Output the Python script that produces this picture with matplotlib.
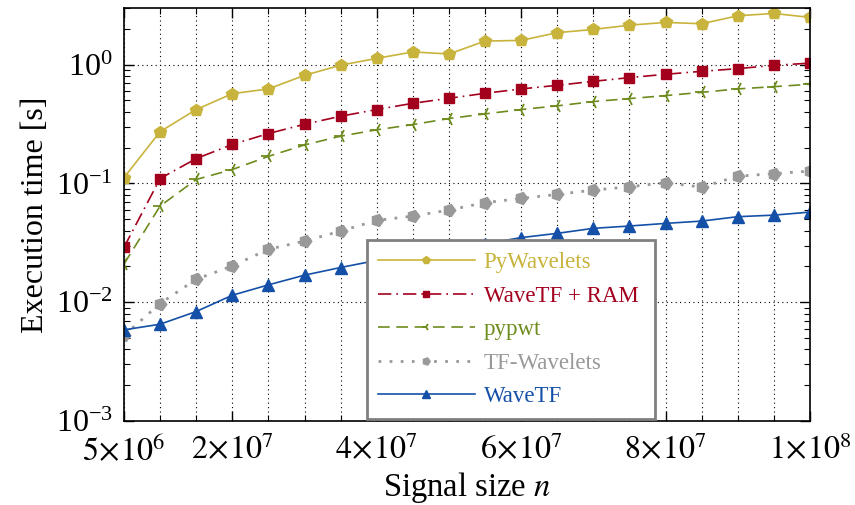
import numpy as np
import matplotlib
matplotlib.use("Agg")
import matplotlib.pyplot as plt
from matplotlib.ticker import FixedLocator, LogLocator, NullFormatter

plt.rcParams['font.family'] = ['Liberation Serif', 'DejaVu Serif']
plt.rcParams['mathtext.fontset'] = 'stix'

# signal sizes
sizes = np.arange(1, 21) * 5e6

pywavelets = [0.112, 0.273, 0.419, 0.570, 0.625, 0.813, 0.99, 1.13, 1.28, 1.23,
              1.58, 1.60, 1.86, 1.98, 2.15, 2.27, 2.21, 2.58, 2.70, 2.50]
wavetf_ram = [0.029, 0.110, 0.162, 0.213, 0.263, 0.315, 0.368, 0.419, 0.473, 0.521,
              0.574, 0.625, 0.670, 0.724, 0.778, 0.830, 0.879, 0.926, 0.987, 1.03]
pypwt = [0.021, 0.0645, 0.108, 0.131, 0.169, 0.211, 0.250, 0.283, 0.313, 0.352,
         0.385, 0.419, 0.450, 0.489, 0.518, 0.549, 0.585, 0.625, 0.653, 0.684]
tf_wavelets = [0.00525, 0.00975, 0.0156, 0.0202, 0.0279, 0.0327, 0.0397, 0.0489, 0.0531, 0.0597,
               0.0689, 0.0748, 0.0809, 0.0879, 0.0938, 0.1014, 0.0931, 0.115, 0.121, 0.127]
wavetf = [0.00585, 0.00653, 0.00835, 0.01145, 0.0140, 0.0169, 0.0196, 0.0225, 0.025, 0.028,
          0.031, 0.035, 0.038, 0.0419, 0.0438, 0.0461, 0.0482, 0.0525, 0.0541, 0.0574]

xtick_vals = [5e6, 2e7, 4e7, 6e7, 8e7, 1e8]
xtick_labels = [r'$5\!\times\!10^{6}$', r'$2\!\times\!10^{7}$', r'$4\!\times\!10^{7}$',
                r'$6\!\times\!10^{7}$', r'$8\!\times\!10^{7}$', r'$1\!\times\!10^{8}$']

fig = plt.figure(figsize=(8.55, 5.05), dpi=100)
ax = fig.add_axes([124 / 855, 1 - 421 / 505, 686 / 855, 413 / 505])

ax.plot(sizes, pywavelets, '-', color='#c8b43c', marker='p', ms=9, lw=1.2, label='PyWavelets')
ax.plot(sizes, wavetf_ram, color='#a3001e', ls=(0, (8, 3, 1, 3)), marker='s', ms=7, lw=1.2,
        label='WaveTF + RAM')
ax.plot(sizes, pypwt, color='#6e8c1e', ls=(0, (7, 4)), marker='3', ms=10, mew=1.3, lw=1.2,
        label='pypwt')
ax.plot(sizes, tf_wavelets, color='#999999', ls=(0, (1, 3)), marker=(5, 0, -90), ms=9, lw=2,
        label='TF-Wavelets')
ax.plot(sizes, wavetf, '-', color='#1550a8', marker='^', ms=9, lw=1.2, label='WaveTF')

ax.set_yscale('log')
ax.set_xlim(5e6, 1e8)
ax.set_ylim(1e-3, 3.0)

ax.xaxis.set_major_locator(FixedLocator(xtick_vals))
ax.set_xticklabels(xtick_labels)
ax.xaxis.set_minor_locator(FixedLocator(sizes))
ax.yaxis.set_major_locator(LogLocator(base=10, numticks=10))
ax.yaxis.set_minor_locator(LogLocator(base=10, subs=np.arange(2, 10), numticks=20))
ax.yaxis.set_minor_formatter(NullFormatter())

ax.tick_params(which='both', direction='in', top=True, right=True, labelsize=23, color='black')
ax.tick_params(which='major', length=7, width=1)
ax.tick_params(which='minor', length=4, width=0.8)
ax.tick_params(axis='x', pad=10)
ax.tick_params(axis='y', pad=8)

ax.grid(True, axis='x', which='both', ls=(0, (1, 3)), color='black', lw=0.8)
ax.grid(True, axis='y', which='major', ls=(0, (1, 3)), color='black', lw=0.8)
for s in ax.spines.values():
    s.set_linewidth(1.2)

ax.set_xlabel(r'Signal size $n$', fontsize=23.5, labelpad=2)
ax.set_ylabel('Execution time [s]', fontsize=23, labelpad=4)

leg = ax.legend(loc='lower left', bbox_to_anchor=(0.354, 0.005, 0.42, 0.465), mode='expand',
                borderaxespad=0, fontsize=16.5, handlelength=4.2, handletextpad=0.4,
                borderpad=0.5, labelspacing=0.55, fancybox=False, framealpha=1,
                markerscale=0.6)
leg.get_frame().set_edgecolor('#808080')
leg.get_frame().set_linewidth(2)
for txt, line in zip(leg.get_texts(), leg.get_lines()):
    txt.set_color(line.get_color())

fig.savefig('out.png', dpi=100)
